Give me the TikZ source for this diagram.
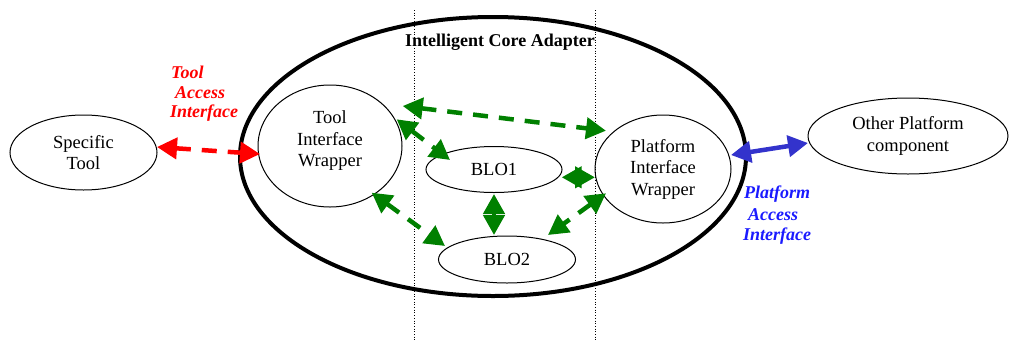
\documentclass[tikz,border=0pt]{standalone}
\usepackage{fontspec}
\setmainfont{Liberation Serif}
\usetikzlibrary{shapes.geometric,arrows.meta,calc}
\definecolor{arrgreen}{RGB}{0,128,0}
\definecolor{arrred}{RGB}{255,0,0}
\definecolor{arrblue}{RGB}{51,51,204}
\definecolor{txtred}{RGB}{255,0,0}
\definecolor{txtblue}{RGB}{26,26,255}
\begin{document}
\begin{tikzpicture}[x=1pt,y=-1pt,
  font=\fontsize{18.5}{21.5}\selectfont,
  blob/.style={draw, ellipse, line width=1pt, inner sep=0pt, align=center},
  core/.style={draw, ellipse, line width=4pt, inner sep=0pt},
  sep/.style={dotted, line width=0.7pt},
  tiptri/.tip={Triangle[length=20pt,width=21pt]},
  link/.style={line width=4.5pt, dash pattern=on 15pt off 11pt, tiptri-tiptri},
  solidlink/.style={line width=4.5pt, tiptri-tiptri},
  lbl/.style={anchor=west, inner sep=0pt, font=\fontsize{18}{21.5}\selectfont\bfseries\itshape}]
\useasboundingbox (0,0) rectangle (1013,341);
% separators
\draw[sep] (414,10) -- (414,341);
\draw[sep] (595,10) -- (595,341);
% core
\node[core, minimum width=506pt, minimum height=279pt] (ica) at (493,156.5) {};
\node[font=\fontsize{18}{21.5}\selectfont\bfseries] (title) at (500,42) {Intelligent Core Adapter};
% nodes
\node[blob, minimum width=147pt, minimum height=75pt] (st) at (83.5,152.5) {Specific\\Tool};
\node[blob, minimum width=144pt, minimum height=122pt] (tw) at (330,146) {};
\node[align=center, inner sep=0pt] (twt) at (330,141) {Tool\\Interface\\Wrapper};
\node[blob, minimum width=136pt, minimum height=46pt] (b1) at (494,169.5) {BLO1};
\node[blob, minimum width=137pt, minimum height=47pt] (b2) at (507,259.5) {BLO2};
\node[blob, minimum width=136pt, minimum height=108pt] (pw) at (663,169) {Platform\\Interface\\Wrapper};
\node[blob, minimum width=200pt, minimum height=76pt] (op) at (908,136) {Other Platform\\component};
% interface labels
\node[lbl, text=txtred] (tai1) at (171,72) {Tool};
\node[lbl, text=txtred] (tai2) at (175,93) {Access};
\node[lbl, text=txtred] (tai3) at (170,113) {Interface};
\node[lbl, text=txtblue] (pai1) at (744,194) {Platform};
\node[lbl, text=txtblue] (pai2) at (748,215) {Access};
\node[lbl, text=txtblue] (pai3) at (743,236) {Interface};
% connectors
\draw[link, arrred] ($(st.center)+(73.5,-5.5)$) -- ($(tw.center)+(-70,8)$);
\draw[solidlink, arrblue] ($(pw.center)+(68,-14)$) -- ($(op.center)+(-100,7)$);
\draw[link, arrgreen] ($(tw.center)+(72.7,-40)$) -- ($(pw.center)+(-57,-38.3)$);
\draw[link, arrgreen] ($(tw.center)+(66.7,-26.7)$) -- ($(b1.center)+(-44,-9.5)$);
\draw[link, arrgreen] ($(tw.center)+(41.7,46.7)$) -- ($(b2.center)+(-62,-13.5)$);
\draw[link, arrgreen] ($(b1.center)+(67.7,7.8)$) -- ($(pw.center)+(-68,8.3)$);
\draw[link, arrgreen] ($(b1.center)+(0,24.5)$) -- ($(b2.center)+(-13,-24.5)$);
\draw[link, arrgreen] ($(pw.center)+(-57,24.3)$) -- ($(b2.center)+(41,-24.5)$);
\end{tikzpicture}
\end{document}
